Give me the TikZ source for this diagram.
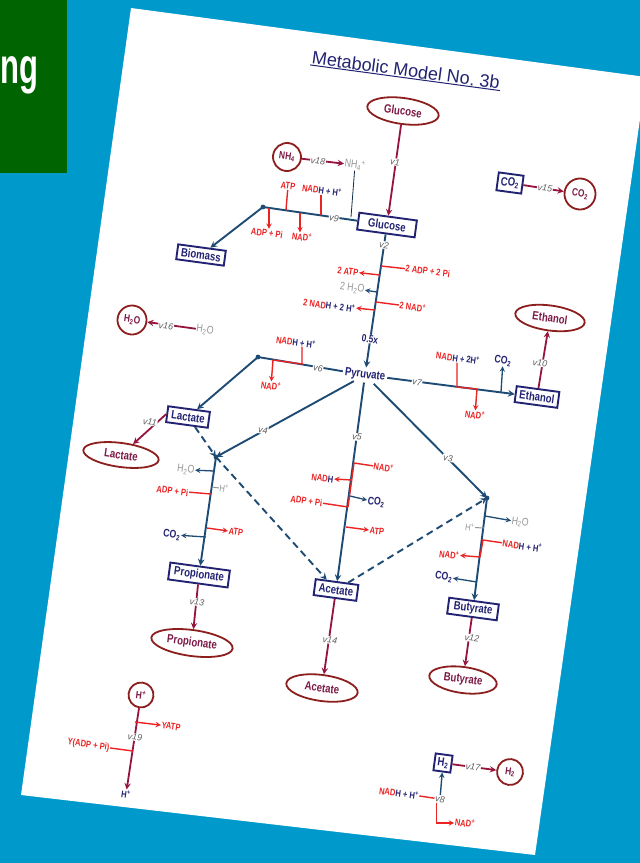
\documentclass[tikz,border=0pt]{standalone}
\usepackage{fontspec}
\setmainfont{Liberation Sans}
\newfontfamily\narrowfont[FakeStretch=0.8]{Liberation Sans}
\newfontfamily\headfont[FakeStretch=0.62]{Liberation Sans}
\usetikzlibrary{shapes.geometric}

\definecolor{bgblue}{RGB}{0,153,204}
\definecolor{leaf}{RGB}{0,100,0}
\definecolor{navy}{RGB}{35,35,115}
\definecolor{flux}{RGB}{30,75,115}
\definecolor{exch}{RGB}{150,20,60}
\definecolor{rim}{RGB}{140,30,30}
\definecolor{plum}{RGB}{125,25,70}
\definecolor{hot}{RGB}{235,35,35}
\definecolor{ash}{RGB}{150,150,150}
\definecolor{ratec}{RGB}{95,95,95}

\tikzset{
  met/.style={draw=navy, line width=1.9pt, inner sep=1pt, text=navy,
    font=\narrowfont\bfseries\fontsize{12}{12}\selectfont},
  ext/.style={ellipse, draw=rim, line width=1.8pt, inner sep=0pt, text=plum,
    font=\narrowfont\bfseries\fontsize{12}{12}\selectfont},
  pool/.style={ext, circle, inner sep=1pt, font=\narrowfont\bfseries\fontsize{10.5}{11}\selectfont},
  side/.style={inner sep=0.5pt, text=hot,
    font=\narrowfont\bfseries\fontsize{9.5}{10}\selectfont},
  gas/.style={side, text=ash, font=\narrowfont\fontsize{11}{11}\selectfont},
  rate/.style={inner sep=0.6pt, fill=white, text=ratec,
    font=\itshape\fontsize{9}{9}\selectfont},
  main/.style={draw=flux, line width=1.9pt},
  outflow/.style={draw=exch, line width=1.8pt},
  redline/.style={draw=hot, line width=1.4pt},
  longdash/.style={dash pattern=on 7pt off 4.5pt},
}

\begin{document}
\begin{tikzpicture}[x=1pt,y=-1pt]
\useasboundingbox (0,0) rectangle (640,863);
\fill[bgblue] (0,0) rectangle (640,863);
\fill[leaf] (0,0) rectangle (67,173);
\node[anchor=base west, inner sep=0pt, text=white, font=\headfont\bfseries\fontsize{50}{50}\selectfont] (heading) at (0.5,83) {ng};
\fill[white] (131,8) -- (646,77) -- (535,855) -- (21,795) -- cycle;

\begin{scope}[every node/.append style={rotate=-7.7}]
% title
\node[text=navy, inner sep=1pt, font=\fontsize{18}{18}\selectfont] (title) at (406,70) {Metabolic Model No.\ 3b};
\draw[navy, line width=1pt] (title.south west) -- (title.south east);

% internal metabolites
\node[met, minimum width=58, minimum height=17] (glc) at (387,225) {Glucose};
\node[met, minimum width=48, minimum height=15] (bio) at (201,255) {Biomass};
\node[met, minimum width=25, minimum height=18] (co2c) at (510,183) {CO\textsubscript{2}};
\node[met, minimum width=42, minimum height=16] (lac) at (188,417) {Lactate};
\node[met, minimum width=43, minimum height=16] (eth) at (537,397) {Ethanol};
\node[met, minimum width=60, minimum height=17] (prop) at (199,575) {Propionate};
\node[met, minimum width=43, minimum height=16] (ace) at (336,590) {Acetate};
\node[met, minimum width=50, minimum height=16] (but) at (473,609) {Butyrate};
\node[met, minimum width=17, minimum height=17] (h2c) at (443,763) {H\textsubscript{2}};
\node[text=navy, inner sep=2pt, font=\narrowfont\bfseries\fontsize{12}{12}\selectfont] (pyr) at (365,375) {Pyruvate};

% exchange pools
\node[ext, minimum width=72, minimum height=26] (glcx) at (403,111) {Glucose};
\node[pool, minimum size=28] (nh4x) at (287,157) {NH\textsubscript{4}};
\node[pool, minimum size=31] (co2x) at (580,194) {CO\textsubscript{2}};
\node[pool, minimum size=29] (h2ox) at (132,320) {H\textsubscript{2}O};
\node[ext, minimum width=70, minimum height=25] (ethx) at (550,318) {Ethanol};
\node[ext, minimum width=76, minimum height=24] (lacx) at (121,455) {Lactate};
\node[ext, minimum width=82, minimum height=26] (propx) at (192,643) {Propionate};
\node[ext, minimum width=72, minimum height=26] (acex) at (322,688) {Acetate};
\node[ext, minimum width=68, minimum height=26] (butx) at (463,680) {Butyrate};
\node[pool, minimum size=25] (hx) at (141,695) {H\textsuperscript{+}};
\node[pool, minimum size=26] (h2x) at (510,772) {H\textsubscript{2}};

% free species
\node[gas] (nh4) at (355,165) {NH\textsubscript{4}\textsuperscript{+}};
\node[gas] (h2o) at (205,330) {H\textsubscript{2}O};
\node[side, text=navy] (hout) at (126,794) {H\textsuperscript{+}};

% junctions
\coordinate (j9) at (263,207);
\coordinate (j18) at (351,217);
\coordinate (j6) at (258,357);
\coordinate (jp) at (216,457);
\coordinate (jb) at (487,498);

% uptake and release
\draw[outflow, -{stealth}] (glcx) -- (glc);
\draw[outflow, -{stealth}] (nh4x) -- (nh4);
\draw[outflow, -{stealth}] (co2c) -- (co2x);
\draw[outflow, -{stealth}] (h2o) -- (h2ox);
\draw[outflow, -{stealth}] (eth) -- (ethx);
\draw[outflow, -{stealth}] (lac.west) -- (lacx);
\draw[outflow, -{stealth}] (prop) -- (propx);
\draw[outflow, -{stealth}] (ace) -- (acex);
\draw[outflow, -{stealth}] (but) -- (butx);
\draw[outflow, -{stealth}] (h2c) -- (h2x);
\draw[outflow, -{stealth}] (hx) -- (hout);

% central fluxes
\draw[flux!60!black, line width=0.8pt] (nh4) -- (j18);
\draw[main, -{stealth}] (glc) -- (pyr);
\draw[main] (glc) -- (j9);
\draw[main, -{stealth}] (j9) -- (bio);
\draw[main] (pyr) -- (j6);
\draw[main, -{stealth}] (j6) -- (lac);
\draw[main, -{stealth}] (pyr) -- (jp);
\draw[main, -{stealth}] (pyr) -- (ace);
\draw[main, -{stealth}] (pyr) -- (jb);
\draw[main, -{stealth}] (pyr) -- (eth);
\draw[main, -{stealth}] (jp) -- (prop);
\draw[main, -{stealth}] (jb) -- (but);
\draw[main, longdash, -{stealth}] (lac) -- (jp);
\draw[main, longdash, -{stealth}] (jp) -- (ace);
\draw[main, longdash, -{stealth}] (ace) -- (jb);
\foreach \j in {j9,j6,jp,jb}
  \fill[flux] (\j) circle (2.4);

% glycolysis (v2)
\coordinate (g1) at (381,266);
\coordinate (g2) at (380,275);
\coordinate (g3) at (377,292);
\coordinate (g4) at (376,302);
\coordinate (g5) at (375,310);
\node[side, anchor=west] (adpg) at (405,268) {2 ADP + 2 Pi};
\node[side, anchor=east] (atpg) at (359,273) {2 ATP};
\node[gas, anchor=east] (h2og) at (365,290) {2 H\textsubscript{2}O};
\node[side, anchor=west] (nadg) at (399,305) {2 NAD\textsuperscript{+}};
\node[side, anchor=east] (nadhg) at (356,309) {2 NAD\textcolor{navy}{H + 2 H\textsuperscript{+}}};
\draw[redline] (g1) -- (adpg);
\draw[redline, -{stealth}] (g2) -- (atpg);
\draw[main, line width=1.3pt, -{stealth}] (g3) -- (h2og);
\draw[redline] (g4) -- (nadg);
\draw[redline, -{stealth}] (g5) -- (nadhg);

% biomass (v9)
\coordinate (a9) at (286,210);
\coordinate (b9) at (321,215);
\coordinate (c9) at (269,208);
\coordinate (d9) at (300,213);
\node[side] (atp9) at (288,186) {ATP};
\node[side] (nadh9) at (322,190) {NAD\textcolor{navy}{H + H\textsuperscript{+}}};
\node[side] (adp9) at (267,233) {ADP + Pi};
\node[side] (nad9) at (302,237) {NAD\textsuperscript{+}};
\draw[redline] (atp9) -- (a9);
\draw[redline] (nadh9.south -| b9) -- (b9);
\draw[redline, -{stealth}] (c9) -- (adp9.north -| c9);
\draw[redline, -{stealth}] (d9) -- (nad9.north -| d9);

% lactate (v6)
\coordinate (a6) at (302,364);
\coordinate (b6) at (273,360);
\node[side] (nadh6) at (296,342) {NAD\textcolor{navy}{H + H\textsuperscript{+}}};
\node[side] (nad6) at (271,386) {NAD\textsuperscript{+}};
\draw[redline] (nadh6.south -| a6) -- (a6) -- (b6);
\draw[redline, -{stealth}] (b6) -- (nad6);

% ethanol (v7)
\coordinate (a7) at (457,387);
\coordinate (b7) at (477,389);
\coordinate (c7) at (501,392);
\node[side] (nadh7) at (458,358) {NAD\textcolor{navy}{H + 2H\textsuperscript{+}}};
\node[side] (nad7) at (475,415) {NAD\textsuperscript{+}};
\node[side, text=navy, font=\narrowfont\bfseries\fontsize{11}{11}\selectfont] (co27) at (503,361) {CO\textsubscript{2}};
\draw[redline] (nadh7.south -| a7) -- (a7) -- (b7);
\draw[redline, -{stealth}] (b7) -- (nad7);
\draw[main, line width=1.3pt, -{stealth}] (c7) -- (co27);

% propionate branch
\coordinate (p1) at (214,471);
\coordinate (p2) at (212,487);
\coordinate (p3) at (211,494);
\coordinate (p4) at (207,528);
\coordinate (p5) at (206,537);
\node[gas, anchor=east] (h2op) at (195,471) {H\textsubscript{2}O};
\node[gas, anchor=west, font=\narrowfont\fontsize{9.5}{10}\selectfont] (hp) at (219,488) {H\textsuperscript{+}};
\node[side, anchor=east] (adpp) at (189,493) {ADP + Pi};
\node[side, anchor=west] (atpp) at (228,531) {ATP};
\node[side, anchor=east, text=navy, font=\narrowfont\bfseries\fontsize{11}{11}\selectfont] (co2p) at (181,536) {CO\textsubscript{2}};
\draw[main, line width=1.3pt, -{stealth}] (p1) -- (h2op);
\draw[ash, line width=1pt] (p2) -- (hp);
\draw[redline] (p3) -- (adpp);
\draw[redline, -{stealth}] (p4) -- (atpp);
\draw[main, line width=1.3pt, -{stealth}] (p5) -- (co2p);

% acetate branch (v5)
\coordinate (e1) at (354,463);
\coordinate (e2) at (352,480);
\coordinate (e3) at (350,496);
\coordinate (e4) at (348,507);
\coordinate (e5) at (346,527);
\node[side, anchor=west] (nade) at (373,466) {NAD\textsuperscript{+}};
\node[side, anchor=east] (nadhe) at (334,480) {NAD\textcolor{navy}{H}};
\node[side, anchor=west, text=navy, font=\narrowfont\bfseries\fontsize{11}{11}\selectfont] (co2e) at (367,501) {CO\textsubscript{2}};
\node[side, anchor=east] (adpe) at (323,503) {ADP + Pi};
\node[side, anchor=west] (atpe) at (369,530) {ATP};
\draw[redline] (nade) -- (e1) -- (e4);
\draw[redline, -{stealth}] (e2) -- (nadhe);
\draw[main, line width=1.3pt, -{stealth}] (e3) -- (co2e);
\draw[redline] (e4) -- (adpe);
\draw[redline, -{stealth}] (e5) -- (atpe);

% butyrate branch
\coordinate (b1) at (485,516);
\coordinate (b2) at (484,528);
\coordinate (b3) at (483,540);
\coordinate (b4) at (480,557);
\coordinate (b5) at (477,582);
\node[gas, anchor=west] (h2ob) at (511,521) {H\textsubscript{2}O};
\node[gas, anchor=east, font=\narrowfont\fontsize{9.5}{10}\selectfont] (hb) at (475,528) {H\textsuperscript{+}};
\node[side, anchor=west] (nadhb) at (502,543) {NAD\textcolor{navy}{H + H\textsuperscript{+}}};
\node[side, anchor=east] (nadb) at (460,556) {NAD\textsuperscript{+}};
\node[side, anchor=east, text=navy, font=\narrowfont\bfseries\fontsize{11}{11}\selectfont] (co2b) at (453,578) {CO\textsubscript{2}};
\draw[main, line width=1.3pt, -{stealth}] (b1) -- (h2ob);
\draw[ash, line width=1pt] (b2) -- (hb);
\draw[redline] (nadhb) -- (b3) -- (b4);
\draw[redline, -{stealth}] (b4) -- (nadb);
\draw[main, line width=1.3pt, -{stealth}] (b5) -- (co2b);

% proton pump (v19)
\coordinate (h1) at (135,722);
\coordinate (h2) at (133,751);
\node[side, anchor=west] (yatp) at (161,725) {YATP};
\node[side, anchor=east] (yadp) at (110,748) {Y(ADP + Pi)};
\draw[redline, -{stealth}] (h1) -- (yatp);
\draw[redline] (h2) -- (yadp);

% rate labels
\node[rate] (v1) at (395,162) {v1};
\node[rate] (v18) at (318,161) {v18};
\node[rate] (v15) at (545,188) {v15};
\node[rate] (v16) at (166,326) {v16};
\node[rate] (v9) at (334,218) {v9};
\node[rate] (v2) at (384,245) {v2};
\node[rate, text=navy, font=\narrowfont\bfseries\fontsize{10.5}{11}\selectfont] (half) at (370,339) {0.5x};
\node[rate] (v6) at (318,368) {v6};
\node[rate] (v7) at (417,382) {v7};
\node[rate] (v4) at (263,430) {v4};
\node[rate] (v5) at (357,437) {v5};
\node[rate] (v3) at (448,458) {v3};
\node[rate] (v10) at (540,363) {v10};
\node[rate] (v11) at (150,422) {v11};
\node[rate] (v13) at (197,602) {v13};
\node[rate] (v14) at (330,640) {v14};
\node[rate] (v12) at (472,638) {v12};
\node[rate] (v17) at (473,767) {v17};
\node[rate] (v19) at (135,737) {v19};

% hydrogenase (v8)
\node[rate] (v8) at (440,799) {v8};
\node[side] (nadh8) at (399,793) {NAD\textcolor{navy}{H + H\textsuperscript{+}}};
\node[side] (nad8) at (465,823) {NAD\textsuperscript{+}};
\draw[main, line width=1.4pt, -{stealth}] (v8) -- (h2c);
\draw[redline] (nadh8) -- (v8);
\draw[redline, -{stealth}] ([xshift=-3]v8.south) |- (nad8);
\end{scope}
\end{tikzpicture}
\end{document}
